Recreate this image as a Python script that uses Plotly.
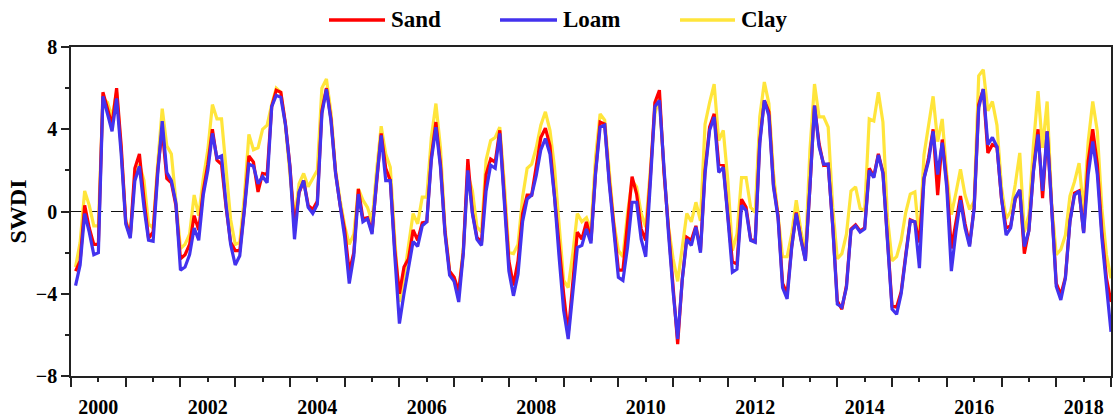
import plotly.graph_objects as go

# ---------------- data (monthly SWDI, Jan 2000 - Dec 2018) ----------------
start_year = 2000
end_year = 2018
series_names = ["Sand", "Loam", "Clay"]

loam = [-3.6, -2.6, -0.1, -1.0, -2.1, -2.0, 5.6, 4.8, 3.9, 5.5, 2.8, -0.6,
        -1.3, 1.5, 2.2, 0.2, -1.4, -1.45, 1.8, 4.4, 1.9, 1.5, 0.4, -2.85,
        -2.7, -2.1, -0.8, -1.4, 0.8, 2.0, 3.8, 2.6, 2.7, 0.3, -1.6, -2.6,
        -2.15, 0.05, 2.3, 2.2, 1.35, 1.7, 1.4, 5.1, 5.65, 5.55, 4.25, 2.15,
        -1.35, 0.95, 1.5, 0.2, -0.1, 0.35, 4.75, 5.95, 4.4, 1.85, 0.35, -1.25,
        -3.5, -2.15, 0.85, -0.5, -0.35, -1.1, 1.5, 3.7, 1.5, 1.5, -2.2, -5.45,
        -4.0, -2.7, -1.46, -1.7, -0.7, -0.5, 2.5, 4.1, 2.15, -1.1, -3.1, -3.4,
        -4.4, -2.05, 2.0, -0.1, -1.35, -1.65, 1.0, 2.25, 2.1, 3.8, 0.7, -2.9,
        -4.1, -3.05, -0.5, 0.6, 0.8, 1.75, 3.0, 3.55, 2.8, 0.7, -2.2, -4.8,
        -6.2, -4.0, -1.75, -1.65, -0.85, -1.55, 1.85, 4.1, 4.2, 1.35, -1.1, -3.2,
        -3.35, -1.75, 0.45, 0.45, -1.35, -2.2, 1.35, 5.1, 5.4, 1.85, -1.1, -3.9,
        -6.2, -3.35, -1.35, -1.65, -0.75, -2.0, 1.85, 3.95, 4.6, 1.9, 2.15, -0.3,
        -2.95, -2.8, 0.3, 0.05, -1.4, -1.5, 3.3, 5.4, 4.65, 1.2, -0.3, -3.7,
        -4.25, -1.75, -0.1, -1.35, -2.4, 1.2, 5.15, 3.15, 2.3, 2.3, -0.75, -4.5,
        -4.65, -3.7, -0.9, -0.7, -1.0, -0.85, 2.0, 1.65, 2.75, 1.85, -1.4, -4.75,
        -5.0, -4.0, -2.2, -0.45, -0.5, -2.75, 1.6, 2.45, 3.9, 1.8, 3.35, 1.15,
        -2.9, -1.0, 0.55, -0.8, -1.7, 0.15, 5.05, 5.95, 3.25, 3.6, 3.15, 0.65,
        -1.15, -0.8, 0.65, 1.05, -1.7, -0.95, 1.95, 3.75, 1.0, 3.9, 0.15, -3.65,
        -4.3, -3.25, -0.5, 0.8, 1.0, -1.05, 1.8, 3.4, 1.8, -1.3, -3.6, -5.85]

sand = [-2.9, -2.4, 0.3, -0.8, -1.6, -1.6, 5.8, 5.0, 4.2, 6.0, 3.2, -0.5,
        -1.2, 2.1, 2.8, 0.6, -1.3, -1.0, 2.0, 4.0, 1.6, 1.4, 0.3, -2.3,
        -2.1, -1.6, -0.2, -0.9, 1.0, 2.3, 4.0, 2.5, 2.3, 0.2, -1.5, -1.9,
        -1.9, 0.1, 2.7, 2.4, 0.95, 1.85, 1.8, 5.1, 5.9, 5.8, 4.3, 2.2,
        -0.8, 0.9, 1.5, 0.3, 0.1, 0.5, 4.9, 6.0, 4.5, 1.9, 0.3, -0.9,
        -2.95, -2.0, 1.1, -0.35, -0.3, -1.0, 1.6, 3.8, 2.1, 1.5, -1.9, -4.0,
        -2.7, -2.3, -0.9, -1.4, -0.55, -0.5, 2.65, 4.35, 2.3, -1.0, -2.9, -3.2,
        -3.9, -2.0, 2.55, -0.05, -1.25, -1.5, 1.8, 2.55, 2.4, 3.95, 0.7, -2.4,
        -3.6, -2.4, -0.1, 0.8, 0.8, 2.15, 3.6, 4.05, 3.2, 0.75, -1.75, -4.0,
        -5.95, -3.35, -1.0, -1.35, -0.5, -1.4, 1.9, 4.35, 4.25, 1.5, -0.75, -2.85,
        -2.85, -0.75, 1.7, 0.85, -0.85, -1.4, 1.65, 5.3, 5.9, 1.9, -1.0, -3.4,
        -6.45, -3.3, -1.25, -1.4, -0.7, -1.9, 2.0, 4.1, 4.75, 2.3, 2.25, -0.2,
        -2.45, -2.55, 0.6, 0.2, -1.35, -1.45, 3.45, 5.4, 4.85, 1.3, -0.2, -3.5,
        -4.0, -1.7, -0.05, -1.3, -2.35, 1.2, 5.15, 3.3, 2.25, 2.3, -0.7, -4.35,
        -4.75, -3.6, -0.85, -0.65, -0.95, -0.8, 2.1, 1.7, 2.8, 1.9, -1.35, -4.6,
        -4.65, -3.9, -2.1, -0.4, -0.5, -1.5, 1.6, 2.6, 4.0, 0.8, 3.5, 1.4,
        -1.8, -0.5, 0.75, -0.6, -1.6, 0.2, 5.2, 5.95, 2.85, 3.25, 3.15, 0.6,
        -0.8, -0.7, 0.6, 1.05, -2.05, -0.9, 2.0, 4.0, 0.65, 3.9, 0.1, -3.5,
        -4.05, -3.2, -0.45, 0.9, 1.0, -1.0, 2.45, 4.0, 2.3, -1.0, -3.25, -4.4]

clay = [-2.7, -1.5, 1.0, 0.3, -0.7, -0.7, 5.5, 5.3, 4.6, 5.8, 3.0, -0.4,
        -1.1, 1.7, 2.3, 1.5, -0.6, -0.8, 2.3, 5.0, 3.2, 2.8, 0.5, -1.8,
        -1.6, -1.1, 0.8, -0.2, 1.6, 3.0, 5.2, 4.5, 4.5, 2.0, -0.4, -1.6,
        -1.5, 0.7, 3.75, 3.0, 3.1, 4.0, 4.2, 5.2, 6.0, 5.8, 4.2, 1.8,
        -0.4, 1.35, 1.85, 1.2, 1.6, 2.0, 6.0, 6.45, 4.8, 2.0, 0.55, -0.7,
        -1.6, -1.1, 1.1, 0.55, 0.2, -0.5, 2.0, 4.15, 2.8, 2.15, -1.4, -4.4,
        -3.2, -1.7, -0.1, -0.6, 0.7, 0.7, 3.6, 5.25, 3.1, -0.85, -2.9, -3.4,
        -3.9, -1.8, 1.8, 1.0, -0.75, -1.0, 2.5, 3.45, 3.6, 4.1, 1.35, -2.0,
        -2.05, -1.6, 0.7, 2.1, 2.3, 3.1, 4.2, 4.85, 3.95, 2.15, -0.75, -3.35,
        -3.7, -2.05, -0.1, -0.5, -0.3, -0.9, 2.65, 4.75, 4.45, 1.85, -0.5, -1.9,
        -2.2, -0.1, 1.5, 1.2, -0.1, -0.75, 2.15, 4.75, 5.55, 2.0, -0.75, -2.3,
        -3.4, -1.75, -0.1, -0.5, 0.45, -0.45, 4.25, 5.3, 6.2, 3.45, 3.95, 1.5,
        -1.9, -1.1, 1.65, 1.65, 0.2, -0.05, 4.6, 6.3, 5.25, 1.85, -0.1, -2.2,
        -2.2, -1.1, 0.55, -0.9, -2.05, 3.0, 6.2, 4.6, 4.6, 4.1, 0.2, -2.3,
        -2.05, -1.1, 1.0, 1.2, 0.15, 0.05, 4.5, 4.4, 5.8, 4.35, -0.3, -2.4,
        -2.2, -1.4, -0.05, 0.85, 0.95, -1.4, 2.75, 4.2, 5.6, 3.4, 4.5, 1.8,
        -0.15, 0.9, 2.05, 0.8, 0.1, 0.5, 6.6, 6.9, 4.9, 5.35, 4.2, 1.15,
        -0.35, 0.0, 1.3, 2.85, -1.0, -0.15, 3.25, 5.85, 3.1, 5.35, 0.35, -2.1,
        -1.85, -1.15, 0.75, 1.45, 2.35, 0.0, 3.4, 5.35, 3.9, 0.15, -2.1, -3.25]

y_tick_vals = [-8, -4, 0, 4, 8]
y_minor_vals = [-6, -2, 2, 6]
x_label_years = list(range(start_year, end_year + 1, 2))

# ---------------- derived x (decimal year, end of each month) ----------------
n_years = end_year - start_year + 1
x = [start_year + (k + 1) / 12 for k in range(12 * n_years)]

colors = {"Sand": "#FF0000", "Loam": "#4332EE", "Clay": "#FFE53B"}
values = {"Sand": sand, "Loam": loam, "Clay": clay}

FONT = "Liberation Serif"
W, H = 1120, 418
ML, MR, MT, MB = 71, 9, 47, 42

fig = go.Figure()
for name in ["Clay", "Sand", "Loam"]:
    fig.add_trace(go.Scatter(x=x, y=values[name], mode="lines", name=name,
                             line=dict(color=colors[name], width=3.2),
                             showlegend=False))

# zero reference line
fig.add_shape(type="line", xref="paper", yref="y", x0=0, x1=1, y0=0, y1=0,
              line=dict(color="#111111", width=1.2, dash="12px,8px"), layer="below")

# manual legend (pixel layout -> paper coordinates)
def px_to_paper_x(px):
    return (px - ML) / (W - ML - MR)

def px_to_paper_y(py):
    return (H - MB - py) / (H - MT - MB)

legend_pos = {"Sand": (329, 385), "Loam": (500, 557), "Clay": (680, 735)}
ly = px_to_paper_y(20)
for name in series_names:
    x0p, x1p = legend_pos[name]
    fig.add_shape(type="line", xref="paper", yref="paper",
                  x0=px_to_paper_x(x0p), x1=px_to_paper_x(x1p), y0=ly, y1=ly,
                  line=dict(color=colors[name], width=3.5))
    fig.add_annotation(xref="paper", yref="paper", x=px_to_paper_x(x1p + 4), y=ly,
                       text=name, showarrow=False, xanchor="left", yanchor="middle",
                       font=dict(family=FONT, size=23, color="black", weight="bold"))

# x axis: labelled half-year ticks + longer year-boundary minor ticks
half_years = [yr + 0.5 for yr in range(start_year, end_year + 1)]
half_text = [str(yr) if yr in x_label_years else "" for yr in range(start_year, end_year + 1)]
fig.update_xaxes(range=[start_year, end_year + 1], tickmode="array",
                 tickvals=half_years, ticktext=half_text,
                 ticks="outside", ticklen=4, tickwidth=1.5, tickcolor="#222",
                 minor=dict(tickmode="array", tickvals=list(range(start_year, end_year + 2)),
                            ticks="outside", ticklen=9, tickwidth=1.5, tickcolor="#222"),
                 showline=True, linecolor="#222", linewidth=1.5, mirror=True,
                 showgrid=False, zeroline=False, ticklabelstandoff=8,
                 tickfont=dict(family=FONT, size=20, color="black", weight="bold"))

fig.update_yaxes(range=[-8, 8], tickmode="array", tickvals=y_tick_vals,
                 ticks="outside", ticklen=8, tickwidth=1.5, tickcolor="#222",
                 minor=dict(tickmode="array", tickvals=y_minor_vals,
                            ticks="outside", ticklen=4, tickwidth=1.5, tickcolor="#222"),
                 showline=True, linecolor="#222", linewidth=1.5, mirror=True,
                 showgrid=False, zeroline=False,
                 tickfont=dict(family=FONT, size=20, color="black", weight="bold"),
                 title=dict(text="SWDI", standoff=2,
                            font=dict(family=FONT, size=24, color="black", weight="bold")))

fig.update_layout(width=W, height=H, margin=dict(l=ML, r=MR, t=MT, b=MB, autoexpand=False),
                  plot_bgcolor="white", paper_bgcolor="white", showlegend=False)

fig.write_html("out.html")
